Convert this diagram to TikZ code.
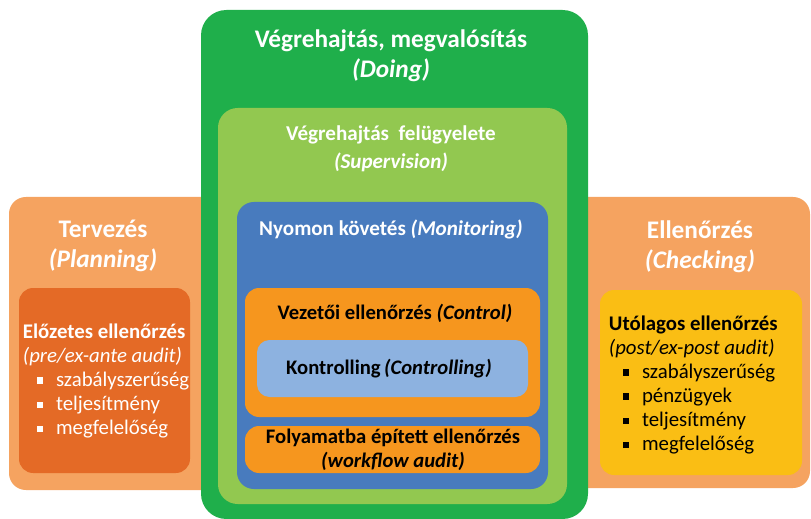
\documentclass[tikz,border=0pt]{standalone}
\usepackage{fontspec}
\setmainfont{Carlito}
\definecolor{zold}{RGB}{31,175,75}
\definecolor{vilzold}{RGB}{146,200,80}
\definecolor{kek}{RGB}{72,123,190}
\definecolor{vilkek}{RGB}{141,178,224}
\definecolor{narancs}{RGB}{246,150,30}
\definecolor{vilnarancs}{RGB}{245,163,96}
\definecolor{sotetnarancs}{RGB}{228,106,38}
\definecolor{sarga}{RGB}{250,190,20}
\newcommand{\pont}{\hspace*{10pt}\rule[2pt]{4.5pt}{4.5pt}\hspace{9pt}}
\begin{document}
\begin{tikzpicture}[x=0.025cm,y=-0.025cm,line join=round,
	nagy/.style={font=\bfseries\fontsize{18}{21.5}\selectfont,text=white,align=center},
	kozep/.style={font=\bfseries\fontsize{15}{20}\selectfont,align=center},
	kicsi/.style={font=\bfseries\fontsize{14.7}{17}\selectfont,align=center},
	lista/.style={font=\fontsize{14.8}{17.2}\selectfont,align=left,anchor=west}]
	 \useasboundingbox (0,0) rectangle (811,519);
	 % oldalso dobozok
	 \fill[vilnarancs,rounded corners=12] (9,197) rectangle (400,490) (400,197) rectangle (810,488);
	 \fill[sotetnarancs,rounded corners=10] (19,288) rectangle (190,473);
	 \fill[sarga,rounded corners=10] (600,290) rectangle (802,475);
	 % egymasba agyazott dobozok
	 \fill[zold,rounded corners=18] (201,10) rectangle (588,519);
	 \fill[vilzold,rounded corners=14] (218,108) rectangle (567,504);
	 \fill[kek,rounded corners=12] (237,202) rectangle (548,489);
	 \fill[narancs,rounded corners=10] (245,288) rectangle (540,417)
	 (245,426) rectangle (540,473);
	 \fill[vilkek,rounded corners=9] (257,340) rectangle (528,397);
	 % szovegek
	 \node[nagy] (doing) at (391,56) {Végrehajtás, megvalósítás\\\textit{(Doing)}};
	 \node[kozep,text=white] (superv) at (391,149) {Végrehajtás~ felügyelete\\\textit{(Supervision)}};
	 \node[kozep,text=white] (monit) at (391,229) {Nyomon követés \textit{(Monitoring)}};
	 \node[kicsi] (control) at (395,313) {Vezetői ellenőrzés \textit{(Control)}};
	 \node[kicsi] (kontroll) at (389,369) {Kontrolling\,\textit{(Controlling)}};
	 \node[kicsi] (workflow) at (393,450) {Folyamatba épített ellenőrzés\\\textit{(workflow audit)}};
	 \node[nagy] (plan) at (103,246) {Tervezés\\\textit{(Planning)}};
	 \node[nagy] (check) at (700,247) {Ellenőrzés\\\textit{(Checking)}};
	 \node[lista,text=white] (elozetes) at (18,381) {\textbf{Előzetes ellenőrzés}\\\textit{(pre/ex-ante audit)}\\
	 \pont szabályszerűség\\\pont teljesítmény\\\pont megfelelőség};
	 \node[lista] (utolagos) at (604,385) {\textbf{Utólagos ellenőrzés}\\\textit{(post/ex-post audit)}\\
	 \pont szabályszerűség\\\pont pénzügyek\\\pont teljesítmény\\\pont megfelelőség};
\end{tikzpicture}
\end{document}
